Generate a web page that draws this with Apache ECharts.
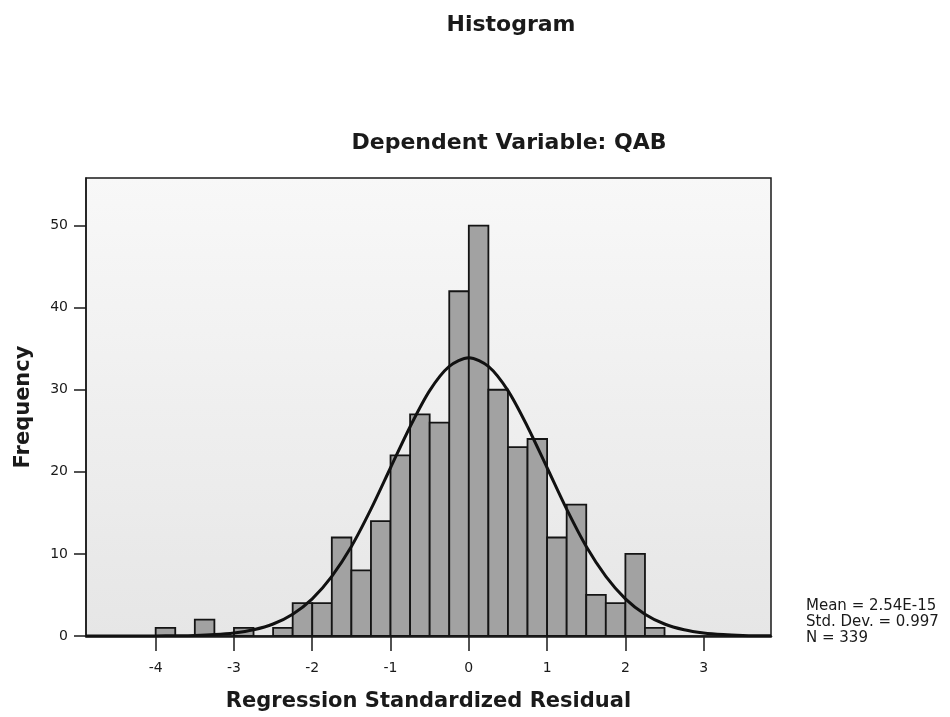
<!DOCTYPE html>
<html>
<head>
<meta charset="utf-8">
<script src="https://cdn.jsdelivr.net/npm/echarts@6/dist/echarts.min.js"></script>
<style>
html,body{margin:0;padding:0;background:#fff;}
#chart{width:950px;height:717px;}
</style>
</head>
<body>
<div id="chart"></div>
<script>
// Histogram bins (left edge of each 0.25-wide bin) and frequencies
var binStart = [-4.00,-3.75,-3.50,-3.25,-3.00,-2.75,-2.50,-2.25,-2.00,-1.75,-1.50,-1.25,-1.00,-0.75,-0.50,-0.25,0.00,0.25,0.50,0.75,1.00,1.25,1.50,1.75,2.00,2.25];
var frequency = [1,0,2,0,1,0,1,4,4,12,8,14,22,27,26,42,50,30,23,24,12,16,5,4,10,1];
var binWidth = 0.25;
// Normal curve
var curveX = [-4.89,-4.5,-4.25,-4.0,-3.75,-3.5,-3.25,-3.0,-2.75,-2.5,-2.25,-2.0,-1.75,-1.5,-1.25,-1.0,-0.75,-0.5,-0.25,0,0.25,0.5,0.75,1.0,1.25,1.5,1.75,2.0,2.25,2.5,2.75,3.0,3.25,3.5,3.75,3.86];
var curveY = [0.0,0.0,0.0,0.01,0.03,0.07,0.17,0.37,0.76,1.46,2.66,4.53,7.27,10.9,15.45,20.5,25.5,29.9,32.85,33.9,32.85,29.9,25.5,20.5,15.45,10.9,7.27,4.53,2.66,1.46,0.76,0.37,0.17,0.07,0.03,0.02];
// Axis ticks
var xTicks = [-4,-3,-2,-1,0,1,2,3];
var yTicks = [0,10,20,30,40,50];
var statsLines = ['Mean = 2.54E-15','Std. Dev. = 0.997','N = 339'];

var FONT = 'DejaVu Sans';
var chart = echarts.init(document.getElementById('chart'), null, {renderer:'canvas'});

var barData = binStart.map(function(s,i){ return [s, s+binWidth, frequency[i]]; });
var lineData = curveX.map(function(x,i){ return [x, curveY[i]]; });

var option = {
  backgroundColor:'#ffffff',
  animation:false,
  grid:{
    left:86, right:179, top:178, bottom:80,
    show:true,
    borderColor:'#1a1a1a', borderWidth:1.5,
    backgroundColor:new echarts.graphic.LinearGradient(0,0,0,1,[
      {offset:0,color:'#f8f8f8'},{offset:1,color:'#e6e6e6'}
    ])
  },
  graphic:[
    {type:'text', x:511, y:25, style:{text:'Histogram', font:'bold 22px "'+FONT+'"', fill:'#1a1a1a', align:'center', verticalAlign:'middle'}},
    {type:'text', x:509, y:143, style:{text:'Dependent Variable: QAB', font:'bold 22px "'+FONT+'"', fill:'#1a1a1a', align:'center', verticalAlign:'middle'}},
    {type:'text', x:806, y:598, style:{text:statsLines.join('\n'), font:'15px "'+FONT+'"', lineHeight:16, fill:'#1a1a1a', align:'left', verticalAlign:'top'}}
  ],
  xAxis:{
    type:'value', min:-4.89, max:3.86,
    splitLine:{show:false},
    axisLine:{show:true, onZero:false, lineStyle:{color:'#1a1a1a', width:2.5}},
    axisTick:{show:true, customValues:xTicks, length:15, lineStyle:{color:'#1a1a1a', width:1.5}},
    axisLabel:{customValues:xTicks, margin:25, color:'#1a1a1a', fontFamily:FONT, fontSize:14},
    name:'Regression Standardized Residual', nameLocation:'middle', nameGap:55,
    nameTextStyle:{fontFamily:FONT, fontWeight:'bold', fontSize:21, color:'#1a1a1a', verticalAlign:'top'}
  },
  yAxis:{
    type:'value', min:0, max:55.8,
    splitLine:{show:false},
    axisLine:{show:true, onZero:false, lineStyle:{color:'#1a1a1a', width:1.5}},
    axisTick:{show:true, customValues:yTicks, length:12, lineStyle:{color:'#1a1a1a', width:1.5}},
    axisLabel:{customValues:yTicks, margin:18, color:'#1a1a1a', fontFamily:FONT, fontSize:14},
    name:'Frequency', nameLocation:'middle', nameGap:52, nameRotate:90,
    nameTextStyle:{fontFamily:FONT, fontWeight:'bold', fontSize:21, color:'#1a1a1a'}
  },
  series:[
    {
      type:'custom',
      data:barData,
      encode:{x:[0,1], y:2},
      clip:true,
      renderItem:function(params, api){
        var h = api.value(2);
        if (!h) return null;
        var p0 = api.coord([api.value(0), h]);
        var p1 = api.coord([api.value(1), 0]);
        return {
          type:'rect',
          shape:{x:p0[0], y:p0[1], width:p1[0]-p0[0], height:p1[1]-p0[1]},
          style:{fill:'#a2a2a2', stroke:'#141414', lineWidth:1.8}
        };
      },
      z:2
    },
    {
      type:'line',
      data:lineData,
      smooth:0.3,
      showSymbol:false,
      lineStyle:{color:'#111', width:3},
      z:3
    }
  ]
};
chart.setOption(option);
</script>
</body>
</html>
